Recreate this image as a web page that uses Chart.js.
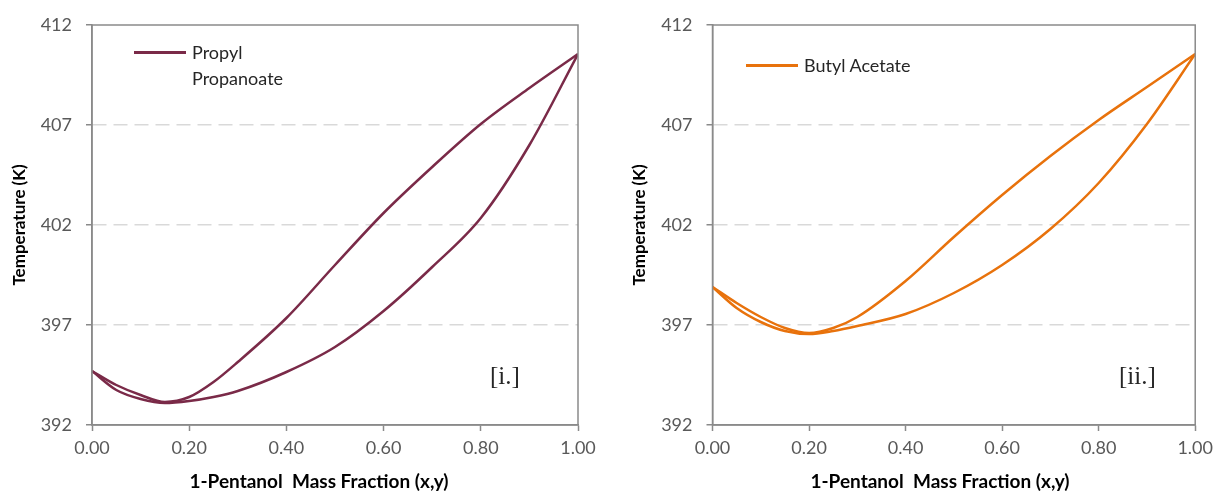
<!DOCTYPE html>
<html>

<head>
    <meta charset='utf-8'>
    <title>VLE curves</title>
    <script src="https://cdn.jsdelivr.net/npm/chart.js@4.4.1/dist/chart.umd.min.js"></script>
    <style>
        body { margin: 0; background: #fff; width: 1219px; height: 495px; position: relative; overflow: hidden; }
        .box { position: absolute; top: 0; height: 495px; }
        .legend { position: absolute; font: 18px Lato, sans-serif; color: #262626; line-height: 26px; }
        .legend .swatch { position: absolute; left: 0; top: 12px; width: 52px; height: 2.5px; }
        .legend .txt { position: absolute; left: 58px; top: 0; white-space: nowrap; }
        .tag { position: absolute; font: 25px "Liberation Serif", serif; color: #262626; }
        .xtitle { position: absolute; top: 469px; font: bold 19px Lato, sans-serif; color: #000; white-space: pre; transform: translateX(-50%); }
    </style>
</head>

<body>
    <div class="box" style="left:0;width:605px"><canvas id="chartA" width="605" height="495"></canvas></div>
    <div class="box" style="left:620px;width:599px"><canvas id="chartB" width="599" height="495"></canvas></div>

    <div class="legend" style="left:134px;top:39px">
        <div class="swatch" style="background:#7A2A48"></div>
        <div class="txt">Propyl<br>Propanoate</div>
    </div>
    <div class="legend" style="left:746px;top:52px">
        <div class="swatch" style="background:#E8720C"></div>
        <div class="txt">Butyl Acetate</div>
    </div>
    <div class="tag" style="left:490px;top:362px">[i.]</div>
    <div class="tag" style="left:1119px;top:362px">[ii.]</div>
    <div class="xtitle" style="left:319px">1-Pentanol  Mass Fraction (x,y)</div>
    <div class="xtitle" style="left:940px">1-Pentanol  Mass Fraction (x,y)</div>

    <script>
        // mass fraction of 1-pentanol
        const massFrac = [0, 0.05, 0.10, 0.15, 0.20, 0.25, 0.30, 0.40, 0.50, 0.60, 0.70, 0.80, 0.90, 1.00];

        // [i.] propyl propanoate
        const ppBubble = [394.7, 393.75, 393.3, 393.1, 393.2, 393.4, 393.7, 394.65, 395.9, 397.7, 399.9, 402.35, 406.0, 410.55];
        const ppDew    = [394.7, 394.0, 393.5, 393.15, 393.4, 394.15, 395.15, 397.35, 400.0, 402.6, 404.9, 407.05, 408.85, 410.55];

        // [ii.] butyl acetate
        const baBubble = [398.9, 397.85, 397.15, 396.7, 396.55, 396.7, 396.95, 397.55, 398.6, 400.0, 401.8, 404.1, 407.05, 410.55];
        const baDew    = [398.9, 398.1, 397.4, 396.85, 396.6, 396.85, 397.4, 399.2, 401.4, 403.5, 405.45, 407.25, 408.9, 410.55];

        const yTicks = [392, 397, 402, 407, 412];

        const axisGray = '#8a8a8a';

        function pts(ys) {
            return massFrac.map((x, i) => ({ x: x, y: ys[i] }));
        }

        // box around plot area
        const frame = {
            id: 'frame',
            afterDraw(chart) {
                const a = chart.chartArea;
                const ctx = chart.ctx;
                ctx.save();
                ctx.strokeStyle = axisGray;
                ctx.lineWidth = 1.5;
                ctx.setLineDash([]);
                ctx.strokeRect(a.left, a.top, a.right - a.left, a.bottom - a.top);
                ctx.restore();
            }
        };

        function makeChart(id, label, color, bubble, dew, yWidth, padRight) {
            const ctx = document.getElementById(id).getContext('2d');
            const line = (ys) => ({
                label: label,
                data: pts(ys),
                showLine: true,
                borderColor: color,
                borderWidth: 2.5,
                pointRadius: 0,
                cubicInterpolationMode: 'monotone'
            });
            return new Chart(ctx, {
                type: 'scatter',
                data: { datasets: [line(dew), line(bubble)] },
                options: {
                    responsive: false,
                    animation: false,
                    layout: { padding: { top: 25, right: padRight, left: 0, bottom: 0 } },
                    plugins: { legend: { display: false }, tooltip: { enabled: false } },
                    scales: {
                        x: {
                            type: 'linear',
                            min: 0,
                            max: 1,
                            afterFit: s => { s.height = 70; },
                            ticks: {
                                stepSize: 0.2,
                                color: '#595959',
                                font: { family: 'Lato', size: 18 },
                                padding: 6,
                                callback: v => v.toFixed(2)
                            },
                            grid: {
                                drawOnChartArea: false,
                                drawTicks: true,
                                tickLength: 6,
                                tickColor: axisGray,
                                tickWidth: 1.5
                            },
                            border: { color: axisGray, width: 1.5 }
                        },
                        y: {
                            min: 392,
                            max: 412,
                            afterFit: s => { s.width = yWidth; },
                            afterBuildTicks: s => { s.ticks = yTicks.map(v => ({ value: v })); },
                            ticks: {
                                color: '#595959',
                                font: { family: 'Lato', size: 18 },
                                padding: 14
                            },
                            title: {
                                display: true,
                                text: 'Temperature (K)',
                                color: '#000',
                                font: { family: 'Lato', size: 17, weight: 'bold' },
                                padding: { top: 9, bottom: 0 }
                            },
                            grid: {
                                color: c => (c.tick && (c.tick.value === 392 || c.tick.value === 412)) ? 'rgba(0,0,0,0)' : '#d9d9d9',
                                lineWidth: 1.5,
                                drawTicks: true,
                                tickLength: 6,
                                tickColor: axisGray,
                                tickWidth: 1.5,
                                tickBorderDash: [1, 0]
                            },
                            border: { color: axisGray, width: 1.5, dash: [14, 7] }
                        }
                    }
                },
                plugins: [frame]
            });
        }

        makeChart('chartA', 'Propyl Propanoate', '#7A2A48', ppBubble, ppDew, 92, 27);
        makeChart('chartB', 'Butyl Acetate', '#E8720C', baBubble, baDew, 92.5, 20.5);
    </script>
</body>

</html>
